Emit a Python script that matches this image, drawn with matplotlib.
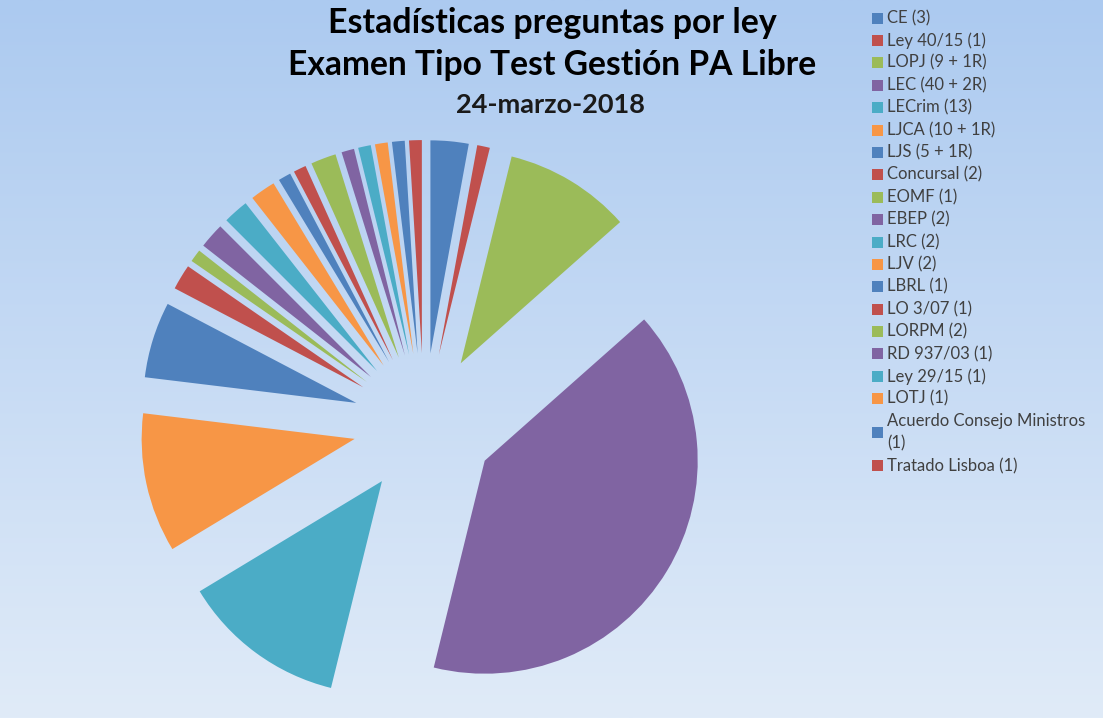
import numpy as np
import matplotlib
matplotlib.use("Agg")
import matplotlib.pyplot as plt
from matplotlib.patches import Rectangle

labels = ["CE (3)", "Ley 40/15 (1)", "LOPJ (9 + 1R)", "LEC (40 + 2R)", "LECrim (13)",
          "LJCA (10 + 1R)", "LJS (5 + 1R)", "Concursal (2)", "EOMF (1)", "EBEP (2)",
          "LRC (2)", "LJV (2)", "LBRL (1)", "LO 3/07 (1)", "LORPM (2)", "RD 937/03 (1)",
          "Ley 29/15 (1)", "LOTJ (1)", "Acuerdo Consejo Ministros\n(1)", "Tratado Lisboa (1)"]
values = [3, 1, 10, 42, 13, 11, 6, 2, 1, 2, 2, 2, 1, 1, 2, 1, 1, 1, 1, 1]
palette = ["#4F81BD", "#C0504D", "#9BBB59", "#8064A2", "#4BACC6", "#F79646"]
colors = [palette[i % len(palette)] for i in range(len(values))]

title1 = "Estadísticas preguntas por ley"
title2 = "Examen Tipo Test Gestión PA Libre"
title3 = "24-marzo-2018"

W, H = 1103, 718
fig = plt.figure(figsize=(W / 100, H / 100), dpi=100)

# background gradient
bg = fig.add_axes([0, 0, 1, 1])
top = np.array([172, 202, 240]) / 255
bot = np.array([224, 235, 248]) / 255
t = np.linspace(0, 1, 256)[:, None]
grad = top[None, :] * (1 - t) + bot[None, :] * t
bg.imshow(grad[:, None, :], aspect="auto", extent=[0, 1, 0, 1], origin="upper")
bg.set_axis_off()

# pie
ax = fig.add_axes([0, 0, 1, 1])
ax.patch.set_alpha(0)
R = 213.0
cx, cy = 424.0, 424.0
ax.pie(values, colors=colors, startangle=90, counterclock=False,
       explode=[0.333] * len(values), radius=1.0,
       wedgeprops=dict(linewidth=0))
ax.set_xlim(-cx / R, (W - cx) / R)
ax.set_ylim(-(H - cy) / R, cy / R)
ax.set_aspect("auto")
ax.set_axis_off()

fam = ["Lato", "DejaVu Sans"]
fig.text(552 / W, 1 - 23 / H, title1, ha="center", va="center", fontsize=24.4,
         fontweight="bold", family=fam, color="black")
fig.text(552 / W, 1 - 65 / H, title2, ha="center", va="center", fontsize=24.2,
         fontweight="bold", family=fam, color="black")
fig.text(550 / W, 1 - 105 / H, title3, ha="center", va="center", fontsize=19.5,
         fontweight="bold", family=fam, color="#1a1a1a")

# legend
step = 22.4
y = 18.0
for lab, col in zip(labels, colors):
    parts = lab.split("\n")
    yc = y + (len(parts) - 1) * step / 2
    fig.patches.append(Rectangle((872 / W, 1 - (yc + 5.5) / H), 11 / W, 11 / H,
                                 transform=fig.transFigure, facecolor=col,
                                 edgecolor="none"))
    for k, p in enumerate(parts):
        fig.text(887 / W, 1 - (y + k * step) / H, p, ha="left", va="center",
                 fontsize=12, family=fam, color="#404040")
    y += len(parts) * step

fig.savefig("out.png", dpi=100)
